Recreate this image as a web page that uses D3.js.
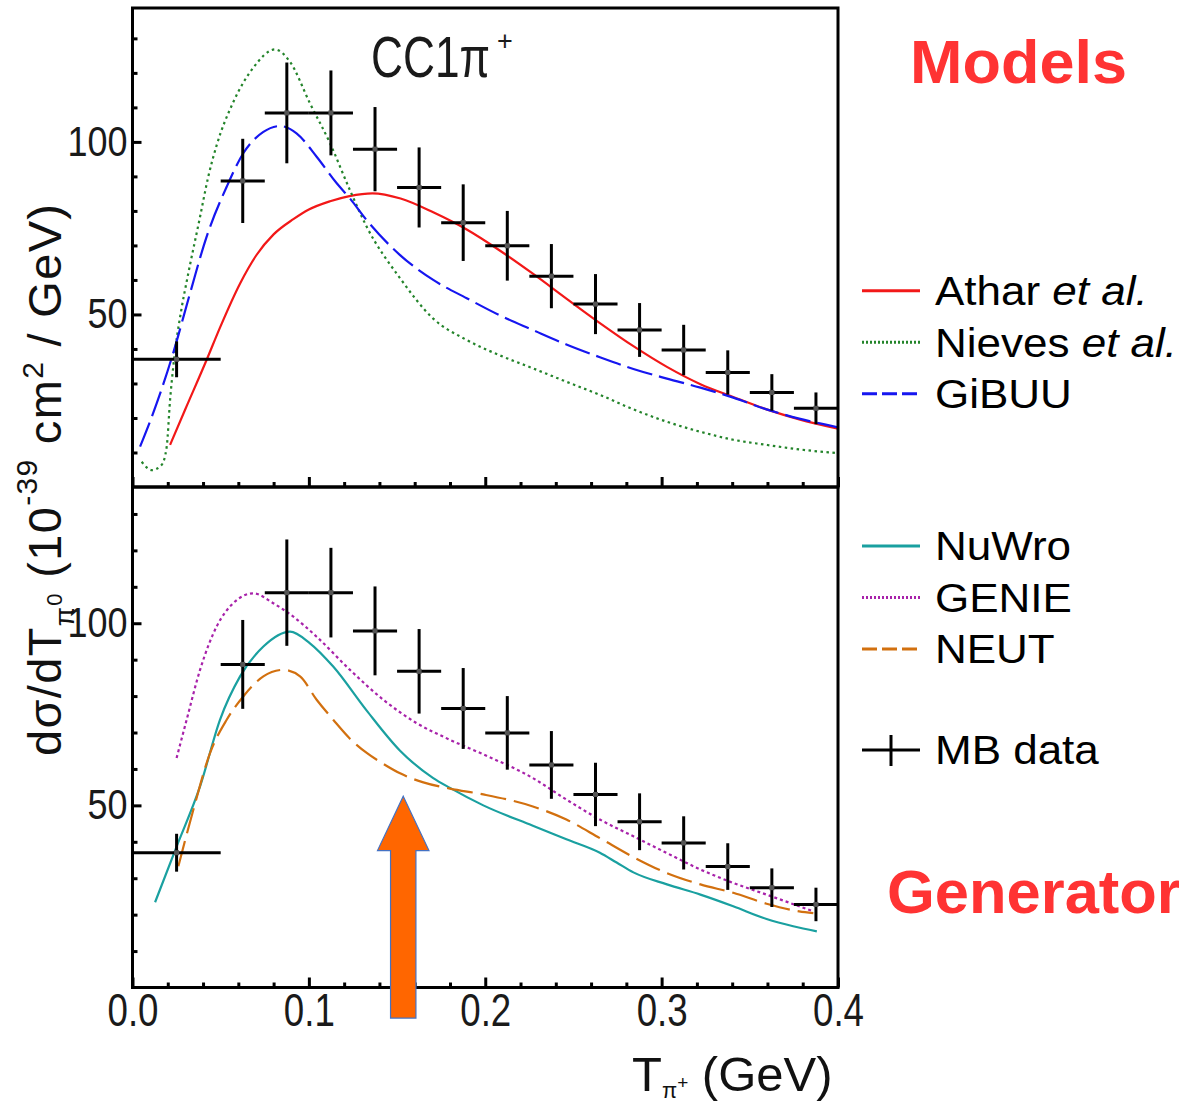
<!DOCTYPE html>
<html>
<head>
<meta charset="utf-8">
<script src="https://cdn.jsdelivr.net/npm/d3@7"></script>
<style>
  html, body { margin: 0; padding: 0; background: #fff; }
  svg { display: block; }
  text { font-family: "Liberation Sans", Arial, Helvetica, sans-serif; }
</style>
</head>
<body>
<svg id="chart" width="1179" height="1104"></svg>
<script>
// ---- MiniBooNE CC1pi+ data: pion kinetic energy bins (GeV) ----
const binCenters    = [0.025, 0.0625, 0.0875, 0.1125, 0.1375, 0.1625, 0.1875, 0.2125, 0.2375, 0.2625, 0.2875, 0.3125, 0.3375, 0.3625, 0.3875];
const binHalfWidths = [0.025, 0.0125, 0.0125, 0.0125, 0.0125, 0.0125, 0.0125, 0.0125, 0.0125, 0.0125, 0.0125, 0.0125, 0.0125, 0.0125, 0.0125];
const mbXsec        = [37.0, 88.7, 108.4, 108.4, 97.9, 86.8, 76.6, 69.9, 61.1, 53.0, 45.5, 39.7, 33.2, 27.4, 22.8];
const mbErr         = [5.2, 12.2, 14.6, 12.3, 12.2, 11.6, 11.1, 10.1, 9.3, 8.7, 7.8, 7.3, 6.4, 5.3, 4.6];

// ---- theory models (upper panel) ----
const atharT    = [0.0213, 0.030, 0.042, 0.0496, 0.061, 0.0704, 0.080, 0.0912, 0.100, 0.112, 0.123, 0.136, 0.152, 0.1705, 0.1895, 0.208, 0.227, 0.246, 0.265, 0.284, 0.303, 0.322, 0.3406, 0.3595, 0.378, 0.400];
const atharXsec = [12.2, 22.6, 36.8, 46.2, 59.0, 67.3, 73.2, 77.6, 80.4, 82.8, 84.3, 85.1, 83.6, 79.6, 74.6, 68.6, 61.8, 54.6, 47.5, 40.8, 34.8, 29.8, 26.1, 22.5, 19.6, 16.9];

const nievesT    = [0.0052, 0.011, 0.0165, 0.0194, 0.0213, 0.0231, 0.0279, 0.0307, 0.0383, 0.0430, 0.0477, 0.0571, 0.0685, 0.0808, 0.0893, 0.1006, 0.112, 0.1233, 0.1328, 0.1517, 0.1705, 0.1895, 0.208, 0.227, 0.246, 0.265, 0.284, 0.303, 0.322, 0.3406, 0.3595, 0.378, 0.400];
const nievesXsec = [7.3, 4.9, 6.4, 11.7, 25.2, 34.8, 52.0, 59.5, 78.3, 90.0, 99.0, 111.5, 121.5, 126.8, 123.2, 111.2, 99.6, 86.0, 75.4, 60.5, 48.8, 42.6, 38.2, 34.4, 30.5, 26.7, 22.5, 18.9, 16.0, 13.7, 12.2, 10.9, 9.8];

const gibuuT    = [0.0043, 0.0137, 0.023, 0.0326, 0.042, 0.0534, 0.0628, 0.0742, 0.0836, 0.093, 0.1044, 0.1158, 0.1233, 0.1328, 0.1517, 0.1705, 0.1895, 0.208, 0.227, 0.246, 0.265, 0.284, 0.303, 0.322, 0.3406, 0.3595, 0.378, 0.400];
const gibuuXsec = [11.7, 24.2, 38.7, 56.1, 72.5, 87.0, 96.7, 102.9, 104.6, 102.5, 95.7, 88.0, 83.6, 77.3, 67.2, 60.0, 54.7, 49.8, 45.5, 41.3, 37.6, 34.2, 31.4, 28.8, 25.9, 22.5, 19.8, 17.3];

// ---- event generators (lower panel) ----
const nuwroT    = [0.0128, 0.025, 0.0383, 0.0496, 0.061, 0.0742, 0.0893, 0.1006, 0.1138, 0.1328, 0.1517, 0.1705, 0.180, 0.1989, 0.227, 0.246, 0.265, 0.2745, 0.284, 0.303, 0.322, 0.3406, 0.3595, 0.3746, 0.388];
const nuwroXsec = [23.4, 38.7, 55.2, 73.5, 85.4, 93.6, 97.7, 94.5, 88.1, 76.0, 65.0, 57.5, 54.8, 50.0, 44.4, 40.7, 37.0, 34.3, 31.6, 28.3, 25.5, 22.3, 18.8, 16.8, 15.4];

const genieT    = [0.025, 0.0307, 0.0383, 0.0477, 0.0571, 0.0685, 0.0798, 0.0912, 0.1044, 0.1233, 0.1422, 0.161, 0.180, 0.1989, 0.227, 0.246, 0.265, 0.284, 0.303, 0.322, 0.3406, 0.3595, 0.378, 0.386];
const genieXsec = [63.0, 73.5, 87.2, 99.1, 105.5, 108.2, 105.5, 101.8, 96.3, 87.2, 79.0, 72.6, 68.0, 64.0, 57.5, 51.6, 46.1, 41.5, 36.9, 32.4, 28.7, 25.5, 22.3, 20.9];

const neutT    = [0.026, 0.0345, 0.044, 0.0534, 0.0628, 0.0742, 0.0855, 0.095, 0.1044, 0.1138, 0.1233, 0.1328, 0.1422, 0.1517, 0.1649, 0.180, 0.1989, 0.227, 0.246, 0.265, 0.284, 0.303, 0.322, 0.3406, 0.3595, 0.378, 0.386];
const neutXsec = [33.3, 48.8, 64.4, 73.5, 79.9, 85.4, 87.2, 85.4, 79.0, 73.5, 68.3, 64.4, 61.4, 58.8, 56.3, 54.6, 53.0, 49.7, 46.1, 41.0, 35.8, 31.4, 28.3, 26.0, 23.0, 20.9, 20.4];

// ---- axis ticks ----
const xMajorTicks = [0.0, 0.1, 0.2, 0.3, 0.4];
const xMinorTicks = [0.02, 0.04, 0.06, 0.08, 0.12, 0.14, 0.16, 0.18, 0.22, 0.24, 0.26, 0.28, 0.32, 0.34, 0.36, 0.38];
const yMajorTicks = [50, 100];
const yMinorTicks = [10, 20, 30, 40, 60, 70, 80, 90, 110, 120, 130];

// ---- annotation arrow (GeV, 1e-39 cm^2/GeV) ----
const arrowAt = 0.1535, arrowTip = 52.5, arrowNeck = 37.6, arrowTail = -8.4;
const arrowHeadHalf = 0.0146, arrowShaftHalf = 0.0072;

// ---------------------------------------------------------------
const svg = d3.select("#chart");
svg.append("rect").attr("width", 1179).attr("height", 1104).attr("fill", "#fff");

const x = d3.scaleLinear().domain([0, 0.4]).range([132.5, 838]);
const yTop = d3.scaleLinear().domain([0, 138.8]).range([487, 8]);
const yBot = d3.scaleLinear().domain([0, 137.4]).range([987.5, 487]);

const models = [
  { name: "Athar",  T: atharT,  v: atharXsec,  color: "#f21818", dash: null,      legendDash: null,   label: ["Athar ", "et al."] },
  { name: "Nieves", T: nievesT, v: nievesXsec, color: "#23842a", dash: "2.5,3.5", legendDash: "2,2",  label: ["Nieves ", "et al."] },
  { name: "GiBUU",  T: gibuuT,  v: gibuuXsec,  color: "#1616f0", dash: "26,7",    legendDash: "15,5", label: ["GiBUU", ""] }
];
const generators = [
  { name: "NuWro", T: nuwroT, v: nuwroXsec, color: "#1aa0a0", dash: null,   legendDash: null,   label: ["NuWro", ""] },
  { name: "GENIE", T: genieT, v: genieXsec, color: "#a822aa", dash: "3,3",  legendDash: "2,2",  label: ["GENIE", ""] },
  { name: "NEUT",  T: neutT,  v: neutXsec,  color: "#d2700f", dash: "26,8", legendDash: "15,5", label: ["NEUT", ""] }
];

const defs = svg.append("defs");
function clip(id, y0, y1) {
  defs.append("clipPath").attr("id", id).append("rect")
    .attr("x", x(0)).attr("y", y0).attr("width", x(0.4) - x(0)).attr("height", y1 - y0);
}
clip("clipTop", yTop(138.8), yTop(0));
clip("clipBot", yBot(137.4), yBot(0));

function drawCurves(series, y, clipId) {
  const g = svg.append("g").attr("clip-path", `url(#${clipId})`);
  series.forEach(s => {
    const pts = s.T.map((t, i) => [t, s.v[i]]);
    const line = d3.line().x(d => x(d[0])).y(d => y(d[1])).curve(d3.curveMonotoneX);
    g.append("path").attr("d", line(pts))
      .attr("fill", "none").attr("stroke", s.color).attr("stroke-width", 2.2)
      .attr("stroke-dasharray", s.dash);
  });
}

function drawData(y) {
  const g = svg.append("g");
  binCenters.forEach((c, i) => {
    const v = mbXsec[i], e = mbErr[i], hw = binHalfWidths[i];
    g.append("line").attr("x1", x(c - hw)).attr("x2", x(c + hw)).attr("y1", y(v)).attr("y2", y(v))
      .attr("stroke", "#000").attr("stroke-width", 3);
    g.append("line").attr("x1", x(c)).attr("x2", x(c)).attr("y1", y(v - e)).attr("y2", y(v + e))
      .attr("stroke", "#000").attr("stroke-width", 3);
    g.append("rect").attr("x", x(c) - 2.5).attr("y", y(v) - 2.5).attr("width", 5).attr("height", 5)
      .attr("fill", "#555");
  });
}

function styleAxis(g) {
  g.select(".domain").remove();
  g.selectAll(".tick line").attr("stroke", "#000").attr("stroke-width", 3);
}

function leftAxes(y) {
  svg.append("g").attr("transform", `translate(${x(0)},0)`)
    .call(d3.axisLeft(y).tickValues(yMinorTicks).tickSizeInner(-5).tickSizeOuter(0).tickFormat(""))
    .call(styleAxis);
  const gM = svg.append("g").attr("transform", `translate(${x(0)},0)`)
    .call(d3.axisLeft(y).tickValues(yMajorTicks).tickSizeInner(-9).tickSizeOuter(0).tickPadding(5).tickFormat(d3.format("d")))
    .call(styleAxis);
  gM.selectAll(".tick text")
    .attr("font-size", 42).attr("fill", "#1a1a1a")
    .attr("font-family", '"Liberation Sans", Arial, sans-serif')
    .attr("textLength", d => d >= 100 ? 60 : 40).attr("lengthAdjust", "spacingAndGlyphs");
}

function bottomTicks(yPix, withLabels) {
  svg.append("g").attr("transform", `translate(0,${yPix})`)
    .call(d3.axisBottom(x).tickValues(xMinorTicks).tickSizeInner(-5).tickSizeOuter(0).tickFormat(""))
    .call(styleAxis);
  const gM = svg.append("g").attr("transform", `translate(0,${yPix})`)
    .call(d3.axisBottom(x).tickValues(xMajorTicks).tickSizeInner(-10).tickSizeOuter(0).tickPadding(6)
      .tickFormat(withLabels ? d3.format(".1f") : ""))
    .call(styleAxis);
  if (withLabels) {
    gM.selectAll(".tick text")
      .attr("font-size", 46).attr("fill", "#1a1a1a")
      .attr("font-family", '"Liberation Sans", Arial, sans-serif')
      .attr("textLength", 51).attr("lengthAdjust", "spacingAndGlyphs");
  }
}

// curves and data
drawCurves(models, yTop, "clipTop");
drawData(yTop);
drawCurves(generators, yBot, "clipBot");
drawData(yBot);

// axes
leftAxes(yTop);
leftAxes(yBot);
bottomTicks(yTop(0), false);
bottomTicks(yBot(0), true);

// panel frames
[[yTop(138.8), yTop(0)], [yBot(137.4), yBot(0)]].forEach(([y0, y1]) => {
  svg.append("rect").attr("x", x(0)).attr("y", y0).attr("width", x(0.4) - x(0)).attr("height", y1 - y0)
    .attr("fill", "none").attr("stroke", "#000").attr("stroke-width", 3);
});

// panel title
svg.append("text").attr("x", 371).attr("y", 77).attr("font-size", 58).attr("fill", "#1a1a1a")
  .attr("textLength", 119).attr("lengthAdjust", "spacingAndGlyphs").text("CC1\u03C0");
svg.append("text").attr("x", 497).attr("y", 50).attr("font-size", 27).attr("fill", "#1a1a1a").text("+");

// y-axis title
const yt = svg.append("text").attr("transform", "translate(61,480) rotate(-90)")
  .attr("text-anchor", "middle").attr("font-size", 47).attr("fill", "#111")
  .attr("textLength", 552);
yt.append("tspan").text("d\u03C3/dT");
yt.append("tspan").attr("font-size", 28).attr("dy", 13).text("\u03C0");
yt.append("tspan").attr("font-size", 22).attr("dy", -12).text("0");
yt.append("tspan").attr("dy", -1).text(" (10");
yt.append("tspan").attr("font-size", 30).attr("dy", -24).text("-39");
yt.append("tspan").attr("dy", 24).text(" cm");
yt.append("tspan").attr("font-size", 30).attr("dy", -18).text("2");
yt.append("tspan").attr("dy", 18).text(" / GeV)");

// x-axis title
const xt = svg.append("text").attr("x", 632).attr("y", 1091).attr("font-size", 49).attr("fill", "#111");
xt.append("tspan").text("T");
xt.append("tspan").attr("font-size", 22).attr("dy", 7).text("\u03C0");
xt.append("tspan").attr("font-size", 19).attr("dy", -9).text("+");
xt.append("tspan").attr("dy", 2).text(" (GeV)");

// legend
function legend(series, yStart) {
  series.forEach((s, i) => {
    const yc = yStart + i * 51.5;
    svg.append("line").attr("x1", 862).attr("x2", 920).attr("y1", yc).attr("y2", yc)
      .attr("stroke", s.color).attr("stroke-width", 3).attr("stroke-dasharray", s.legendDash);
    const t = svg.append("text").attr("transform", `translate(935,${yc + 14.3}) scale(1.1,1)`)
      .attr("font-size", 40).attr("fill", "#000");
    t.append("tspan").text(s.label[0]);
    if (s.label[1]) t.append("tspan").attr("font-style", "italic").text(s.label[1]);
  });
}
legend(models, 290.7);
legend(generators, 546);

svg.append("line").attr("x1", 862).attr("x2", 920).attr("y1", 750).attr("y2", 750)
  .attr("stroke", "#000").attr("stroke-width", 3);
svg.append("line").attr("x1", 891).attr("x2", 891).attr("y1", 735).attr("y2", 766)
  .attr("stroke", "#000").attr("stroke-width", 3);
svg.append("text").attr("transform", "translate(935,764.3) scale(1.1,1)")
  .attr("font-size", 40).attr("fill", "#000").text("MB data");

// category headings
svg.append("text").attr("x", 910).attr("y", 82.7)
  .attr("font-family", '"Open Sans", "Noto Sans", sans-serif').attr("font-weight", 700)
  .attr("font-size", 62).attr("fill", "#ff3333")
  .attr("textLength", 217).attr("lengthAdjust", "spacingAndGlyphs").text("Models");
svg.append("text").attr("x", 887).attr("y", 913)
  .attr("font-family", '"Open Sans", "Noto Sans", sans-serif').attr("font-weight", 700)
  .attr("font-size", 62).attr("fill", "#ff3333")
  .attr("textLength", 328).attr("lengthAdjust", "spacingAndGlyphs").text("Generators");

// arrow marking the region of interest
const arrowPts = [
  [arrowAt, arrowTip],
  [arrowAt + arrowHeadHalf, arrowNeck],
  [arrowAt + arrowShaftHalf, arrowNeck],
  [arrowAt + arrowShaftHalf, arrowTail],
  [arrowAt - arrowShaftHalf, arrowTail],
  [arrowAt - arrowShaftHalf, arrowNeck],
  [arrowAt - arrowHeadHalf, arrowNeck]
];
svg.append("polygon")
  .attr("points", arrowPts.map(p => [x(p[0]), yBot(p[1])].join(",")).join(" "))
  .attr("fill", "#ff6600").attr("stroke", "#4472c4").attr("stroke-width", 1.2);
</script>
</body>
</html>
